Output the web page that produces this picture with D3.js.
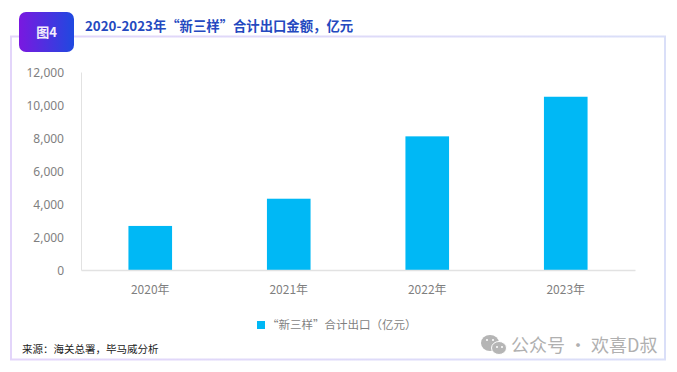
<!DOCTYPE html>
<html>
<head>
<meta charset="utf-8">
<script src="https://cdn.jsdelivr.net/npm/d3@7"></script>
<style>
  html, body { margin: 0; padding: 0; background: #fff; }
  svg { display: block; }
  text { font-family: "Noto Sans CJK SC", "Noto Sans", sans-serif; }
</style>
</head>
<body>
<div id="chart"></div>
<script>
// Values
const years = ["2020年", "2021年", "2022年", "2023年"];
const exportValues = [2670, 4320, 8100, 10500];
const yTicks = [0, 2000, 4000, 6000, 8000, 10000, 12000];
const seriesName = "“新三样”合计出口（亿元）";
const badgeLabel = "图4";
const chartTitle = "2020-2023年“新三样”合计出口金额，亿元";
const sourceNote = "来源：海关总署，毕马威分析";
const watermark = "公众号 · 欢喜D叔";

const svg = d3.select("#chart")
    .append("svg")
    .attr("width", 677)
    .attr("height", 372);

const defs = svg.append("defs");

// Purple to blue, used on the badge
const badgeGrad = defs.append("linearGradient").attr("id", "badgeGrad");
badgeGrad.append("stop").attr("offset", "0%").attr("stop-color", "#7a18e0");
badgeGrad.append("stop").attr("offset", "100%").attr("stop-color", "#1f49e0");

// Same idea but pale, for the frame
const frameGrad = defs.append("linearGradient").attr("id", "frameGrad");
frameGrad.append("stop").attr("offset", "0%").attr("stop-color", "#e3d5fa");
frameGrad.append("stop").attr("offset", "100%").attr("stop-color", "#dadff8");

svg.append("rect")
    .attr("x", 11)
    .attr("y", 36.5)
    .attr("width", 654)
    .attr("height", 323)
    .attr("fill", "#fff")
    .attr("stroke", "url(#frameGrad)")
    .attr("stroke-width", 2);

// Badge and title
svg.append("rect")
    .attr("x", 19)
    .attr("y", 12)
    .attr("width", 55)
    .attr("height", 40)
    .attr("rx", 7)
    .attr("fill", "url(#badgeGrad)");

svg.append("text")
    .attr("x", 46.5)
    .attr("y", 37)
    .attr("text-anchor", "middle")
    .attr("font-size", 13)
    .attr("font-weight", 700)
    .attr("fill", "#f4eefc")
    .text(badgeLabel);

svg.append("text")
    .attr("x", 85)
    .attr("y", 31)
    .attr("font-size", 13.35)
    .attr("font-weight", 700)
    .attr("fill", "#2449c0")
    .text(chartTitle);

// Scales
const margin = {top: 72, right: 42, bottom: 102, left: 81};
const width = 677 - margin.left - margin.right;
const height = 372 - margin.top - margin.bottom;

const g = svg.append("g")
    .attr("transform", `translate(${margin.left},${margin.top})`);

const x = d3.scaleBand()
    .domain(years)
    .range([0, width])
    .paddingInner(0.685)
    .paddingOuter(0.3425);

const y = d3.scaleLinear()
    .domain([0, 12000])
    .range([height, 0]);

// Bars
g.selectAll(".bar")
    .data(exportValues)
    .join("rect")
    .attr("class", "bar")
    .attr("x", (d, i) => x(years[i]))
    .attr("y", d => y(d))
    .attr("width", x.bandwidth())
    .attr("height", d => height - y(d))
    .attr("fill", "#00b8f5");

// Y axis
const yAxis = g.append("g")
    .call(d3.axisLeft(y).tickValues(yTicks).tickFormat(d3.format(",")).tickSize(0).tickPadding(17));
yAxis.select(".domain").attr("stroke", "#e2e2e2");
yAxis.selectAll("text")
    .attr("font-size", 12)
    .attr("fill", "#7f7f7f")
    .attr("transform", "translate(0,1)")
    .style("font-family", "'Noto Sans', sans-serif");

// X axis
const xAxis = g.append("g")
    .attr("transform", `translate(0,${height})`)
    .call(d3.axisBottom(x).tickSize(0).tickPadding(15));
xAxis.select(".domain").attr("stroke", "#e2e2e2").attr("stroke-width", 1.5);
xAxis.selectAll("text")
    .attr("font-size", 12)
    .attr("fill", "#7f7f7f");

// Legend
svg.append("rect")
    .attr("x", 257)
    .attr("y", 321)
    .attr("width", 8)
    .attr("height", 8)
    .attr("fill", "#00b8f5");

svg.append("text")
    .attr("x", 267)
    .attr("y", 329)
    .attr("font-size", 11.5)
    .attr("fill", "#7f7f7f")
    .text(seriesName);

// Source
svg.append("text")
    .attr("x", 22)
    .attr("y", 353)
    .attr("font-size", 10.5)
    .attr("fill", "#222")
    .text(sourceNote);

// Watermark, speech bubble logo then text
const logo = svg.append("g").attr("fill", "#b5b5b5");
logo.append("ellipse").attr("cx", 490).attr("cy", 343).attr("rx", 9).attr("ry", 8);
logo.append("ellipse").attr("cx", 499).attr("cy", 348).attr("rx", 7.5).attr("ry", 6.5)
    .attr("stroke", "#fff").attr("stroke-width", 1);
logo.selectAll(".eye")
    .data([[487, 340], [493, 340], [497, 347], [502, 347]])
    .join("circle")
    .attr("class", "eye")
    .attr("cx", d => d[0])
    .attr("cy", d => d[1])
    .attr("r", 1)
    .attr("fill", "#fff");

svg.append("text")
    .attr("x", 511)
    .attr("y", 352)
    .attr("font-size", 18)
    .attr("fill", "#b0b0b0")
    .text(watermark);
</script>
</body>
</html>
